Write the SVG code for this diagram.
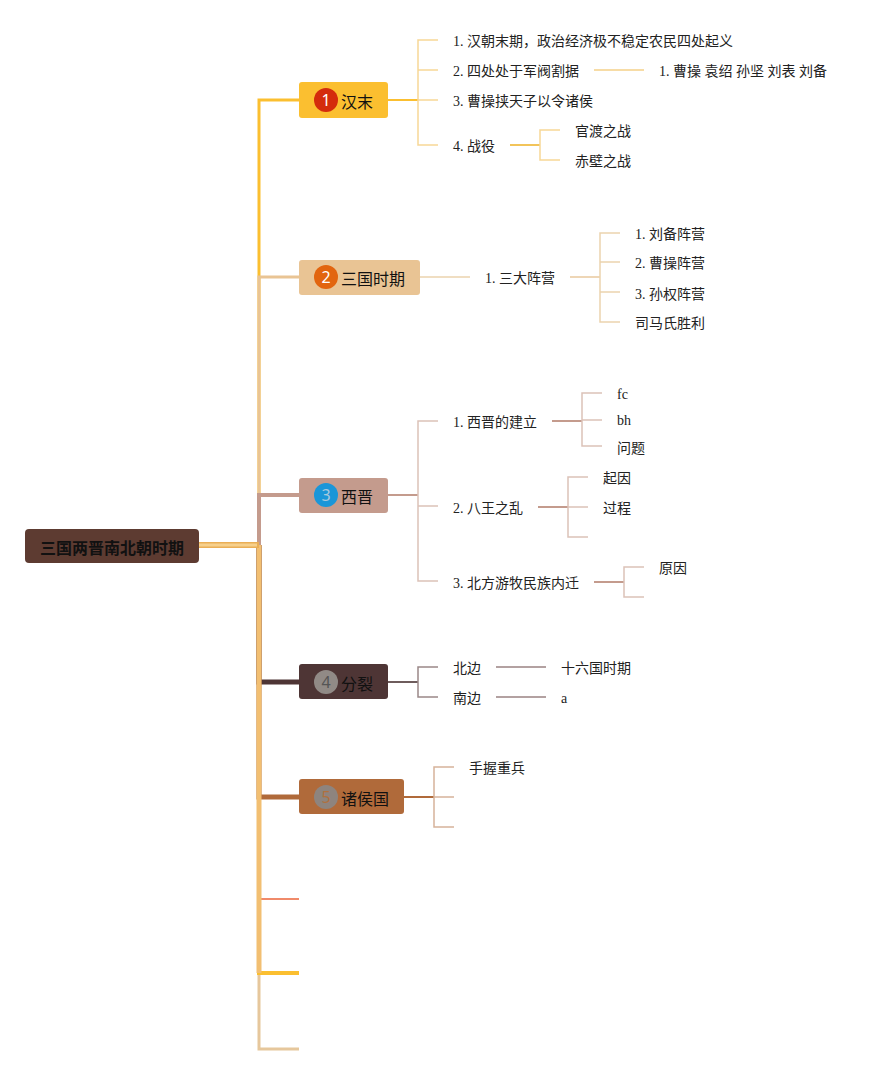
<svg xmlns="http://www.w3.org/2000/svg" width="887" height="1075" viewBox="0 0 887 1075">
<style>
.t{font-family:"Liberation Serif","Noto Sans CJK SC",serif;font-size:14px;fill:#222;dominant-baseline:central}
.nl{font-family:"Noto Sans CJK SC",sans-serif;font-size:16px;fill:#111;dominant-baseline:central}
.bn{font-family:"Noto Sans","Noto Sans CJK SC",sans-serif;font-size:16px;text-anchor:middle;dominant-baseline:central}
.c{fill:none;stroke-linejoin:miter}
</style>
<rect width="887" height="1075" fill="#fff"/>
<g id="connectors">
<!-- main branches -->
<path class="c" d="M259,545V100H299" stroke="#FBBF30" stroke-width="3"/>
<path class="c" d="M259,545V277H299" stroke="#E9C494" stroke-width="3"/>
<path class="c" d="M259,545V495H299" stroke="#C49B8D" stroke-width="4"/>
<path class="c" d="M259,545V682H299" stroke="#4E3535" stroke-width="5"/>
<path class="c" d="M259,545V797H299" stroke="#B06A3A" stroke-width="5"/>
<path class="c" d="M259,545V899H299" stroke="#F08A6A" stroke-width="2"/>
<path class="c" d="M259,973V1049H299" stroke="#E6C79C" stroke-width="3"/>
<path class="c" d="M259,545V973H299" stroke="#FBBF30" stroke-width="4"/>
<path class="c" d="M259,545V973" stroke="#F2BF72" stroke-width="5"/>
<path class="c" d="M199,545H259" stroke="#EAAE55" stroke-width="6"/>
<path class="c" d="M199,545H257" stroke="#F6D08C" stroke-width="3"/>
<!-- node 1 children -->
<path class="c" d="M388,100H418" stroke="#FBBF30" stroke-width="2"/>
<path class="c" d="M438,40H418V145H438M418,70H438M418,100H438" stroke="#F7D796" stroke-width="1.5"/>
<path class="c" d="M594,70H644" stroke="#F7DCA6" stroke-width="2"/>
<path class="c" d="M510,145H540" stroke="#F2C45A" stroke-width="2"/>
<path class="c" d="M560,130H540V160H560" stroke="#F7D796" stroke-width="1.5"/>
<!-- node 2 children -->
<path class="c" d="M420,277H470" stroke="#EBD3AE" stroke-width="1.5"/>
<path class="c" d="M570,277H600" stroke="#E9C99E" stroke-width="1.5"/>
<path class="c" d="M620,233H600V322H620M600,262H620M600,292H620" stroke="#EBD3AE" stroke-width="1.5"/>
<!-- node 3 children -->
<path class="c" d="M388,495H418" stroke="#C49B8D" stroke-width="2"/>
<path class="c" d="M438,421H418V581H438M418,506H438" stroke="#DCC2B8" stroke-width="1.5"/>
<path class="c" d="M552,421H582" stroke="#C49B8D" stroke-width="2"/>
<path class="c" d="M602,393H582V446H602M582,420H602" stroke="#DCC2B8" stroke-width="1.5"/>
<path class="c" d="M538,507H568" stroke="#C49B8D" stroke-width="2"/>
<path class="c" d="M588,477H568V537H588M568,507H588" stroke="#DCC2B8" stroke-width="1.5"/>
<path class="c" d="M594,582H624" stroke="#C49B8D" stroke-width="2"/>
<path class="c" d="M644,567H624V597H644" stroke="#DCC2B8" stroke-width="1.5"/>
<!-- node 4 children -->
<path class="c" d="M388,682H418" stroke="#6E5C5C" stroke-width="2"/>
<path class="c" d="M438,667H418V697H438" stroke="#9A8888" stroke-width="1.5"/>
<path class="c" d="M496,667H546M496,697H546" stroke="#B3A1A1" stroke-width="2"/>
<!-- node 5 children -->
<path class="c" d="M404,797H434" stroke="#B06A3A" stroke-width="2"/>
<path class="c" d="M454,767H434V827H454M434,797H454" stroke="#D6B39A" stroke-width="1.5"/>
</g>
<g id="root">
<rect x="25" y="529" width="174" height="34" rx="4" fill="#5D3B31"/>
<text x="112" y="547" text-anchor="middle" font-family="Noto Sans CJK SC,sans-serif" font-size="16" font-weight="bold" fill="#111" dominant-baseline="central">三国两晋南北朝时期</text>
</g>
<g id="n1">
<rect x="299" y="82" width="89" height="36" rx="3" fill="#FBBF30"/>
<circle cx="326" cy="100" r="12" fill="#D42C0C"/>
<text class="bn" x="326" y="100" fill="#fff">1</text>
<text class="nl" x="341" y="101">汉末</text>
</g>
<g id="n2">
<rect x="299" y="260" width="121" height="35" rx="3" fill="#E9C494"/>
<circle cx="326" cy="277" r="12" fill="#E2650F"/>
<text class="bn" x="326" y="277" fill="#fff">2</text>
<text class="nl" x="341" y="278">三国时期</text>
</g>
<g id="n3">
<rect x="299" y="478" width="89" height="35" rx="3" fill="#C49B8D"/>
<circle cx="326" cy="495" r="12" fill="#1A96D8"/>
<text class="bn" x="326" y="495" fill="#A9C9DD">3</text>
<text class="nl" x="341" y="496">西晋</text>
</g>
<g id="n4">
<rect x="299" y="664" width="89" height="35" rx="3" fill="#4E3535"/>
<circle cx="326" cy="682" r="12" fill="#918A86"/>
<text class="bn" x="326" y="682" fill="#555">4</text>
<text class="nl" x="341" y="683">分裂</text>
</g>
<g id="n5">
<rect x="299" y="779" width="105" height="35" rx="3" fill="#B06A3A"/>
<circle cx="326" cy="797" r="12" fill="#8E847E"/>
<text class="bn" x="326" y="797" fill="#B0703E">5</text>
<text class="nl" x="341" y="798">诸侯国</text>
</g>
<g id="n1-children">
<text class="t" x="453" y="41">1. 汉朝末期，政治经济极不稳定农民四处起义</text>
<text class="t" x="453" y="71">2. 四处处于军阀割据</text>
<text class="t" x="659" y="71">1. 曹操 袁绍 孙坚 刘表 刘备</text>
<text class="t" x="453" y="101">3. 曹操挟天子以令诸侯</text>
<text class="t" x="453" y="146">4. 战役</text>
<text class="t" x="575" y="131">官渡之战</text>
<text class="t" x="575" y="161">赤壁之战</text>
</g>
<g id="n2-children">
<text class="t" x="485" y="278">1. 三大阵营</text>
<text class="t" x="635" y="234">1. 刘备阵营</text>
<text class="t" x="635" y="263">2. 曹操阵营</text>
<text class="t" x="635" y="294">3. 孙权阵营</text>
<text class="t" x="635" y="323">司马氏胜利</text>
</g>
<g id="n3-children">
<text class="t" x="453" y="422">1. 西晋的建立</text>
<text class="t" x="617" y="394">fc</text>
<text class="t" x="617" y="420">bh</text>
<text class="t" x="617" y="448">问题</text>
<text class="t" x="453" y="508">2. 八王之乱</text>
<text class="t" x="603" y="478">起因</text>
<text class="t" x="603" y="508">过程</text>
<text class="t" x="453" y="583">3. 北方游牧民族内迁</text>
<text class="t" x="659" y="568">原因</text>
</g>
<g id="n4-children">
<text class="t" x="453" y="668">北边</text>
<text class="t" x="453" y="698">南边</text>
<text class="t" x="561" y="668">十六国时期</text>
<text class="t" x="561" y="698">a</text>
</g>
<g id="n5-children">
<text class="t" x="469" y="768">手握重兵</text>
</g>
</svg>
